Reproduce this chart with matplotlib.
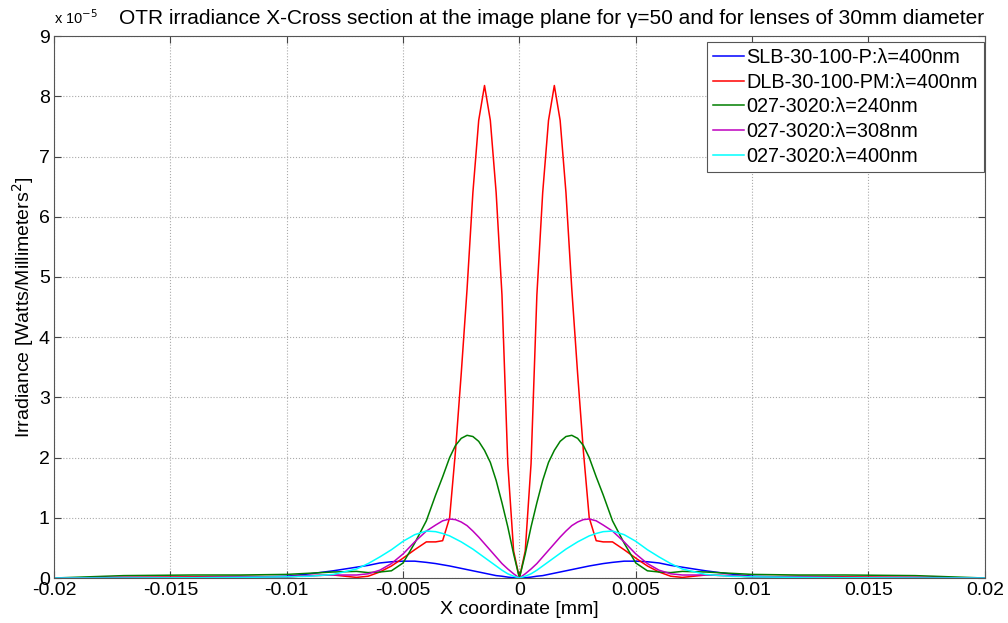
import matplotlib
matplotlib.use("Agg")
import matplotlib.pyplot as plt

plt.rcParams['font.family'] = ['Liberation Sans', 'DejaVu Sans']

# x coordinate [mm]
x_mm = [-0.020, -0.017, -0.014, -0.012, -0.010, -0.009, -0.008, -0.007, -0.0065, -0.006,
        -0.0055, -0.005, -0.0045, -0.004, -0.0036, -0.0033, -0.003, -0.00275, -0.0025, -0.00225,
        -0.002, -0.00175, -0.0015, -0.00125, -0.001, -0.00075, -0.0005, -0.00025,
        0.0,
        0.00025, 0.0005, 0.00075, 0.001, 0.00125, 0.0015, 0.00175, 0.002, 0.00225, 0.0025,
        0.00275, 0.003, 0.0033, 0.0036, 0.004, 0.0045, 0.005, 0.0055, 0.006, 0.0065,
        0.007, 0.008, 0.009, 0.010, 0.012, 0.014, 0.017, 0.020]

# irradiance in units of 1e-5 W/mm^2
slb_400 = [0, 0, 0.005, 0.01, 0.03, 0.07, 0.12, 0.18, 0.21, 0.25, 0.27, 0.28, 0.28, 0.26,
           0.24, 0.22, 0.2, 0.18, 0.16, 0.14, 0.12, 0.1, 0.08, 0.06, 0.04, 0.03, 0.015, 0.005,
           0,
           0.005, 0.015, 0.03, 0.04, 0.06, 0.08, 0.1, 0.12, 0.14, 0.16, 0.18, 0.2, 0.22, 0.24,
           0.26, 0.28, 0.28, 0.27, 0.25, 0.21, 0.18, 0.12, 0.07, 0.03, 0.01, 0.005, 0, 0]
dlb_400 = [0, 0.01, 0.02, 0.03, 0.02, 0.04, 0.05, 0.01, 0.03, 0.1, 0.2, 0.33, 0.47, 0.6,
           0.6, 0.62, 1.0, 2.1, 3.4, 4.8, 6.4, 7.6, 8.18, 7.6, 6.4, 4.7, 1.9, 0.45,
           0,
           0.45, 1.9, 4.7, 6.4, 7.6, 8.18, 7.6, 6.4, 4.8, 3.4, 2.1, 1.0, 0.62, 0.6, 0.6,
           0.47, 0.33, 0.2, 0.1, 0.03, 0.01, 0.05, 0.04, 0.02, 0.03, 0.02, 0.01, 0]
lens_240 = [0, 0.04, 0.05, 0.05, 0.06, 0.08, 0.1, 0.11, 0.09, 0.1, 0.12, 0.25, 0.58, 0.95,
            1.38, 1.68, 2.0, 2.2, 2.32, 2.37, 2.35, 2.27, 2.12, 1.92, 1.62, 1.25, 0.85, 0.4,
            0,
            0.4, 0.85, 1.25, 1.62, 1.92, 2.12, 2.27, 2.35, 2.37, 2.32, 2.2, 2.0, 1.68, 1.38,
            0.95, 0.58, 0.25, 0.12, 0.1, 0.09, 0.11, 0.1, 0.08, 0.06, 0.05, 0.05, 0.04, 0]
lens_308 = [0, 0.01, 0.01, 0.02, 0.02, 0.04, 0.05, 0.05, 0.07, 0.13, 0.24, 0.4, 0.6, 0.78,
            0.88, 0.95, 0.98, 0.97, 0.93, 0.87, 0.78, 0.68, 0.57, 0.46, 0.35, 0.24, 0.15, 0.07,
            0,
            0.07, 0.15, 0.24, 0.35, 0.46, 0.57, 0.68, 0.78, 0.87, 0.93, 0.97, 0.98, 0.95, 0.88,
            0.78, 0.6, 0.4, 0.24, 0.13, 0.07, 0.05, 0.05, 0.04, 0.02, 0.02, 0.01, 0.01, 0]
lens_400 = [0, 0, 0.005, 0.01, 0.02, 0.03, 0.06, 0.15, 0.24, 0.35, 0.47, 0.61, 0.72, 0.78,
            0.77, 0.74, 0.7, 0.65, 0.6, 0.54, 0.48, 0.41, 0.34, 0.27, 0.2, 0.13, 0.07, 0.03,
            0,
            0.03, 0.07, 0.13, 0.2, 0.27, 0.34, 0.41, 0.48, 0.54, 0.6, 0.65, 0.7, 0.74, 0.77,
            0.78, 0.72, 0.61, 0.47, 0.35, 0.24, 0.15, 0.06, 0.03, 0.02, 0.01, 0.005, 0, 0]

labels = ['SLB-30-100-P:λ=400nm', 'DLB-30-100-PM:λ=400nm',
          '027-3020:λ=240nm', '027-3020:λ=308nm', '027-3020:λ=400nm']
colors = ['#0000ff', '#ff0000', '#007f00', '#bf00bf', '#00ffff']
series = [slb_400, dlb_400, lens_240, lens_308, lens_400]

fig = plt.figure(figsize=(10.08, 6.23), dpi=100)
ax = fig.add_axes([0.0536, 0.0722, 0.9234, 0.8698])

for y, c, lab in zip(series, colors, labels):
    ax.plot(x_mm, y, color=c, lw=1.1, label=lab)

ax.set_xlim(-0.02, 0.02)
ax.set_ylim(0, 9)
ax.set_xticks([-0.02, -0.015, -0.01, -0.005, 0, 0.005, 0.01, 0.015, 0.02])
ax.set_xticklabels(['-0.02', '-0.015', '-0.01', '-0.005', '0', '0.005', '0.01', '0.015', '0.02'])
ax.set_yticks(range(10))
ax.tick_params(direction='in', top=True, right=True, labelsize=14, length=5,
               color='#444444', pad=3)
ax.grid(True, linestyle=':', color='#aaaaaa', lw=0.8)
for s in ax.spines.values():
    s.set_color('#555555')
    s.set_linewidth(0.8)

ax.set_xlabel('X coordinate [mm]', fontsize=14, labelpad=1)
ax.set_ylabel('Irradiance [Watts/Millimeters$^2$]', fontsize=14, labelpad=2)

fig.text(0.054, 0.962, 'x 10$^{-5}$', fontsize=10.5, ha='left', va='baseline')
fig.text(0.547, 0.962, 'OTR irradiance X-Cross section at the image plane for γ=50 '
         'and for lenses of 30mm diameter', fontsize=15, ha='center', va='baseline')

leg = ax.legend(loc='upper right', bbox_to_anchor=(0.976, 0.932), bbox_transform=fig.transFigure,
                fontsize=14.3, handlelength=1.6, handletextpad=0.1,
                borderaxespad=0, borderpad=0.3, labelspacing=0.28, fancybox=False,
                framealpha=1, edgecolor='#555555')
leg.get_frame().set_linewidth(0.8)

fig.savefig('out.png', dpi=100)
